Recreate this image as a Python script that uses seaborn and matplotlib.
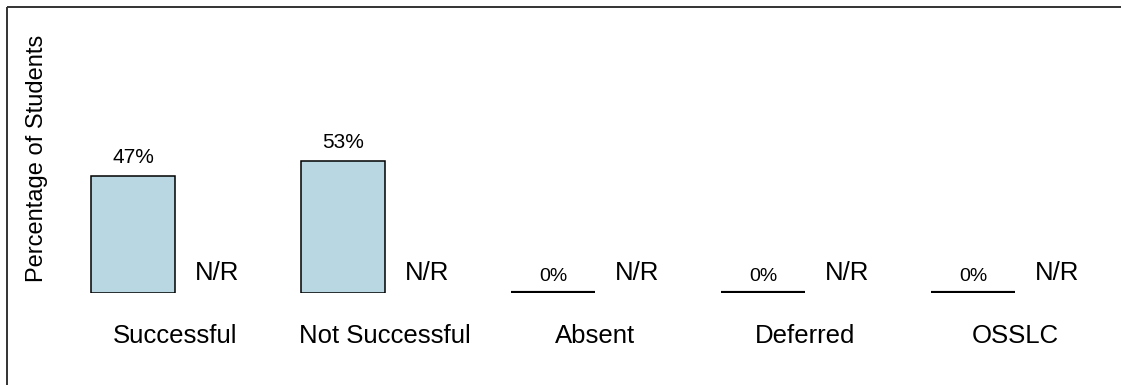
import matplotlib
matplotlib.use("Agg")
import matplotlib.pyplot as plt
import seaborn as sns
import pandas as pd
import numpy as np
from matplotlib.lines import Line2D

# Outcome categories and the two compared groups
categories = ["Successful", "Not Successful", "Absent", "Deferred", "OSSLC"]
groups = ["Cohort", "Comparison"]
cohort_pct = [47, 53, 0, 0, 0]
comparison_pct = [np.nan, np.nan, np.nan, np.nan, np.nan]  # not reported
na_label = "N/R"

df = pd.DataFrame({
    "category": categories * 2,
    "group": [groups[0]] * len(categories) + [groups[1]] * len(categories),
    "pct": cohort_pct + comparison_pct,
})

sns.set_theme(style="white")
plt.rcParams["font.family"] = ["Liberation Sans", "DejaVu Sans"]
plt.rcParams["text.color"] = "black"
plt.rcParams["axes.labelcolor"] = "black"
plt.rcParams["xtick.color"] = "black"

fig = plt.figure(figsize=(11.23, 3.85), dpi=100)
ax = fig.add_axes([70 / 1123, 92 / 385, 1050 / 1123, 249 / 385])

sns.barplot(
    data=df, x="category", y="pct", hue="group", order=categories,
    hue_order=groups, palette=["#B9D7E2", "#B9D7E2"], saturation=1,
    width=0.8, edgecolor="black", linewidth=1.1, legend=False, ax=ax,
)

# zero-height bars show as a solid baseline stroke
for p in ax.patches:
    h = p.get_height()
    if np.isfinite(h) and abs(h) < 1e-9:
        p.set_linewidth(3.0)

ax.set_xlim(-0.5, len(categories) - 0.5)
ax.set_ylim(0, 100)
ax.set_yticks([])
ax.set_frame_on(False)
ax.tick_params(axis="x", length=0, pad=22, labelsize=18.5, labelcolor="black")
ax.set_xlabel("")
ax.set_ylabel("Percentage of Students", fontsize=17, color="black")
ax.yaxis.set_label_coords(-0.021, 0.54)

# value labels for the cohort bars, N/R for the unreported group
for i, v in enumerate(cohort_pct):
    x = i - 0.2
    ax.annotate(f"{v:.0f}%", (x, v), xytext=(0, 6.5 if v > 0 else 6),
                textcoords="offset points", ha="center", va="bottom",
                fontsize=15 if v > 0 else 14, color="black")
for i, v in enumerate(comparison_pct):
    x = i + 0.2
    if np.isnan(v):
        ax.annotate(na_label, (x, 0), xytext=(0, 5.5), textcoords="offset points",
                    ha="center", va="bottom", fontsize=18.5, color="black")

# frame lines on the left and top of the chart area
fx = 6.5 / 1123
fy = 1 - 6.5 / 385
fig.lines.append(Line2D([fx, fx], [-0.05, fy], transform=fig.transFigure,
                        color="#333333", linewidth=1.4,
                        solid_capstyle="butt"))
fig.lines.append(Line2D([fx, 0.998], [fy, fy], transform=fig.transFigure,
                        color="#333333", linewidth=1.4,
                        solid_capstyle="butt"))

fig.savefig("out.png", dpi=100)
